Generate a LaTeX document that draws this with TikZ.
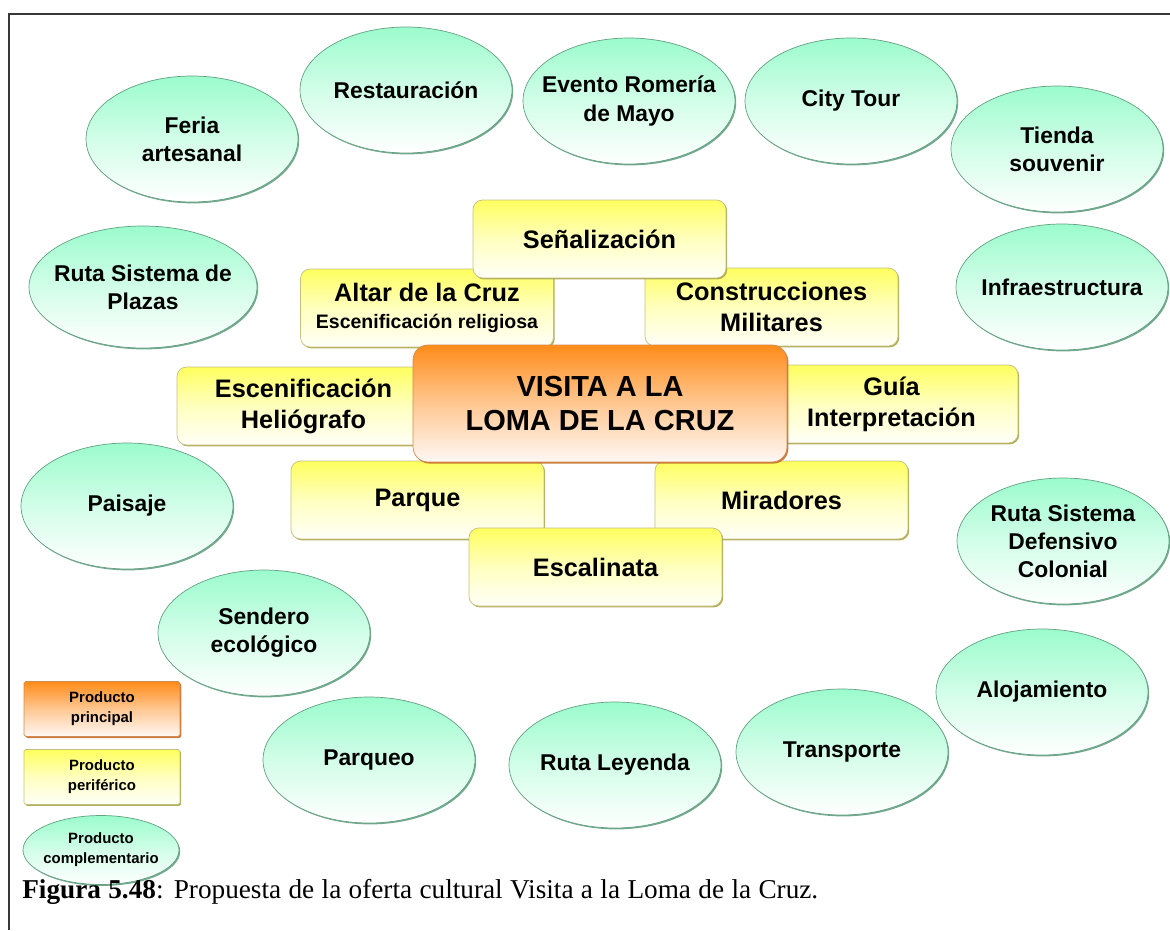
\documentclass[tikz,border=0pt]{standalone}
\usepackage{fontspec}
\setmainfont{Liberation Serif}
\setsansfont{Liberation Sans}
\usetikzlibrary{shapes.geometric,shadows}
\definecolor{mint}{RGB}{155,252,205}
\definecolor{mintedge}{RGB}{100,160,130}
\definecolor{lemon}{RGB}{255,255,95}
\definecolor{lemonedge}{RGB}{170,165,70}
\definecolor{orangetop}{RGB}{255,140,25}
\definecolor{orangebot}{RGB}{255,248,245}
\definecolor{orangeedge}{RGB}{195,110,40}
\definecolor{framegray}{RGB}{55,55,55}

\begin{document}
\begin{tikzpicture}[x=0.02cm, y=-0.02cm,
    compl/.style={ellipse, draw=mintedge, thin, top color=mint, bottom color=white, middle color=mint!45!white, minimum width=4.24cm, minimum height=2.52cm, inner xsep=-10pt, inner ysep=-6pt, align=center, font=\sffamily\bfseries\fontsize{13}{16}\selectfont, drop shadow={shadow xshift=0.7pt, shadow yshift=-0.8pt, fill=mintedge, opacity=0.9}},
    peri/.style={rectangle, rounded corners=5.5pt, draw=lemonedge!70!white, thin, top color=lemon, bottom color=lemon!4!white, middle color=lemon!40!white, minimum width=5.06cm, minimum height=1.56cm, inner sep=0pt, align=center, font=\sffamily\bfseries\fontsize{14.4}{17.6}\selectfont, drop shadow={shadow xshift=0.7pt, shadow yshift=-0.8pt, fill=lemonedge, opacity=0.9}},
    prin/.style={rectangle, rounded corners=8.5pt, draw=orangeedge!80!white, thin, top color=orangetop, bottom color=orangebot, middle color=orangetop!45!orangebot, minimum width=7.48cm, minimum height=2.34cm, inner sep=0pt, align=center, font=\sffamily\bfseries\fontsize{16.5}{18.8}\selectfont, drop shadow={shadow xshift=0.8pt, shadow yshift=-0.9pt, fill=orangeedge, opacity=0.9}},
    legend/.style={font=\sffamily\bfseries\fontsize{8.5}{11.4}\selectfont, minimum width=3.12cm, minimum height=1.1cm, rounded corners=1pt}
]
\useasboundingbox (0,0) rectangle (1170,930);
\draw[framegray, line width=1.1pt] (9,930) -- (9,14) -- (1170,14);

\node[compl] (feria) at (192,139) {Feria\\artesanal};
\node[compl] (resta) at (406,90) {Restauración};
\node[compl] (romeria) at (629,101) {Evento Romería\\de Mayo};
\node[compl] (city) at (851,101) {City Tour};
\node[compl] (tienda) at (1057,149) {Tienda\\souvenir};
\node[compl, minimum width=4.56cm, minimum height=2.44cm] (plazas) at (143,287) {Ruta Sistema de\\Plazas};
\node[compl] (infra) at (1062,287) {Infraestructura};
\node[compl] (paisaje) at (127,506) {Paisaje};
\node[compl] (defensa) at (1063,541) {Ruta Sistema\\Defensivo\\Colonial};
\node[compl] (sendero) at (264,633) {Sendero\\ecológico};
\node[compl] (aloja) at (1042,692) {Alojamiento};
\node[compl] (transp) at (842,752) {Transporte};
\node[compl] (leyenda) at (615,765) {Ruta Leyenda};
\node[compl] (parqueo) at (369,760) {Parqueo};

\node[peri] (helio) at (303.5,406) {Escenificación\\Heliógrafo};
\node[peri] (guia) at (891.5,404) {Guía\\Interpretación};
\node[peri] (altar) at (427,308) {Altar de la Cruz\\[-2pt]{\fontsize{11.1}{13}\selectfont Escenificación religiosa}};
\node[peri] (constr) at (771.5,307) {Construcciones\\Militares};
\node[peri] (senal) at (599.5,239) {Señalización};
\node[peri] (parque) at (417.5,500) {Parque};
\node[peri] (mirad) at (781.5,500) {Miradores};
\node[peri] (escal) at (595.5,567) {Escalinata};
\node[prin] (visita) at (600,403.5) {VISITA A LA\\LOMA DE LA CRUZ};

\node[prin, legend] (lprin) at (102,709) {Producto\\principal};
\node[peri, legend] (lperi) at (102,777) {Producto\\periférico};
\node[compl, legend, minimum width=3.12cm, minimum height=1.38cm] (lcompl) at (101,850) {Producto\\complementario};

\node[anchor=base west, inner sep=0pt, font=\fontsize{15.5}{18}\selectfont] (caption) at (22,898) {\makebox[15.92cm][s]{\textbf{Figura 5.48}: Propuesta de la oferta cultural Visita a la Loma de la Cruz.}};
\end{tikzpicture}
\end{document}
